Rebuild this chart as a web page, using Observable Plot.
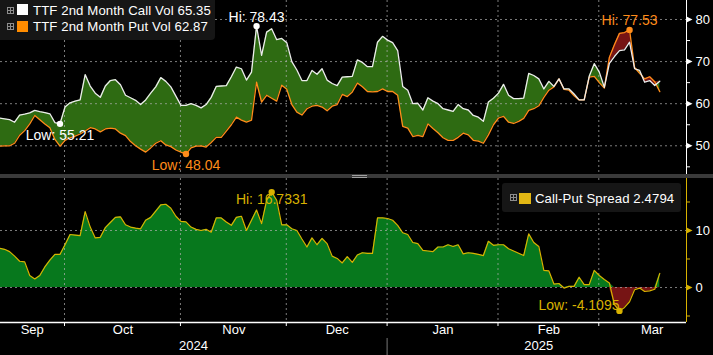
<!DOCTYPE html>
<html><head><meta charset="utf-8">
<script src="https://cdn.jsdelivr.net/npm/d3@7"></script>
<script src="https://cdn.jsdelivr.net/npm/@observablehq/plot@0.6"></script>
<style>
html,body{margin:0;padding:0;background:#000;}
#chart{position:relative;width:713px;height:355px;overflow:hidden;background:#000;font-family:"Liberation Sans",Arial,sans-serif;}
#top,#bottom{position:absolute;left:0;}
#top{top:0;} #bottom{top:178px;}
#sep{position:absolute;left:0;top:174px;width:713px;height:4px;background:#3a3a3a;}
.grip{position:absolute;left:352px;width:15px;height:1px;background:#a0a0a0;}
.legend{position:absolute;background:#161616;color:#fff;font-size:13.2px;letter-spacing:0.1px;}
.icon{position:absolute;width:5px;height:5px;border:1px solid #8c8c8c;}
.icon:before{content:"";position:absolute;left:2px;top:0;width:1px;height:5px;background:#8c8c8c}
.icon:after{content:"";position:absolute;left:0;top:2px;width:5px;height:1px;background:#8c8c8c}
.sw{position:absolute;width:11px;height:11px;}
.lbl{position:absolute;line-height:16px;white-space:nowrap;}
</style></head>
<body>
<div id="chart">
  <div id="top"></div>
  <div id="sep"><div class="grip" style="top:1px"></div><div class="grip" style="top:3px"></div></div>
  <div id="bottom"></div>
  <div class="legend" id="legTop" style="left:0;top:0;width:215px;height:40px;border-radius:0 0 4px 0;">
    <div class="icon" style="left:7px;top:7px"></div>
    <div class="sw" style="left:17px;top:4px;background:#ffffff"></div>
    <div class="lbl" id="lblCall" style="left:33px;top:3px"></div>
    <div class="icon" style="left:7px;top:23px"></div>
    <div class="sw" style="left:17px;top:21px;background:#ff8c00"></div>
    <div class="lbl" id="lblPut" style="left:33px;top:19px"></div>
  </div>
  <div class="legend" id="legBot" style="left:502px;top:183px;width:179px;height:29px;border-radius:3px;">
    <div class="icon" style="left:8px;top:11px"></div>
    <div class="sw" style="left:17px;top:10px;width:12px;background:#e2b714"></div>
    <div class="lbl" id="lblSpread" style="left:33px;top:8px"></div>
  </div>
</div>
<script>
// ---- data (one value per trading day, 12 Sep 2024 .. 19 Mar 2025) ----
const callVol = [
56.6,56.4,56.2,55.6,57.3,57.5,57.8,58.4,58.1,57.9,
57.6,55.5,55.21,59.2,60.2,60.6,60.9,66.9,64.2,62.5,
61.5,64.2,65.5,65.7,64.5,62.0,61.4,60.8,59.8,60.9,
62.5,64.0,66.2,65.3,64.0,61.8,59.6,59.6,60.0,59.6,
59.0,59.8,61.5,64.1,64.2,64.3,66.4,68.7,68.3,65.6,
67.5,78.43,71.5,77.0,77.8,75.2,75.5,74.5,70.0,68.0,
65.5,65.5,67.9,67.0,68.3,65.6,64.8,64.3,66.3,66.4,
66.5,70.4,69.8,68.8,68.8,74.6,76.0,75.1,74.5,72.6,
64.1,63.2,60.0,60.1,58.5,61.4,60.6,60.0,58.8,58.5,
58.2,59.8,58.8,58.5,57.2,56.8,55.8,60.4,61.3,62.5,
64.6,62.0,61.2,61.2,61.3,67.2,66.7,65.9,63.5,65.3,
64.1,65.9,63.5,63.5,62.3,60.9,60.9,66.5,69.5,67.5,
63.9,69.6,71.2,72.6,72.8,74.6,68.3,67.9,65.1,65.5,
64.3,65.35];
const putVol = [
49.9,50.0,50.0,50.6,52.5,53.6,55.2,57.2,56.2,55.2,
54.3,51.5,49.9,51.3,51.9,52.3,52.8,53.5,54.3,54.0,
53.3,54.0,54.2,54.0,53.0,52.4,51.0,50.0,49.2,48.5,
49.5,50.6,51.2,50.2,49.8,49.0,48.5,48.04,49.5,49.9,
50.0,49.7,50.8,52.0,52.0,53.5,55.0,56.8,56.1,55.6,
56.1,65.1,60.4,62.0,61.3,60.6,64.4,63.4,59.8,58.0,
57.3,58.8,59.4,59.6,59.2,58.3,59.4,59.8,62.2,61.7,
62.8,64.9,64.0,62.9,62.8,62.9,63.5,62.9,62.9,62.0,
54.6,54.2,52.2,52.5,52.2,55.2,54.1,53.1,51.9,51.3,
51.3,52.0,53.0,52.6,51.3,51.1,50.6,52.6,55.0,56.6,
57.0,55.6,55.3,55.8,56.5,58.4,58.8,59.5,61.5,63.2,
64.0,65.9,63.4,63.2,61.9,60.9,60.9,66.3,66.5,65.0,
63.7,71.0,74.0,76.7,76.9,77.53,68.6,67.2,65.9,66.4,
65.2,62.87];
const spreadVals = [
6.9,6.7,6.3,5.5,4.6,4.5,2.1,1.5,2.1,3.6,
4.8,5.8,5.8,7.5,9.3,9.2,9.1,13.3,10.6,8.7,
8.8,10.5,11.4,12.3,12.4,11.0,10.6,10.4,10.3,11.8,
12.3,13.4,14.5,14.6,13.9,12.5,11.6,11.5,10.6,10.2,
10.0,10.2,9.7,12.2,12.2,11.5,10.9,12.3,12.5,10.0,
11.8,13.6,11.2,15.3,16.7331,15.3,11.0,11.0,10.3,10.0,
8.5,7.1,8.7,7.5,8.6,7.7,5.5,5.1,4.3,5.4,
4.4,5.7,6.1,6.0,6.0,12.2,12.2,12.1,11.8,10.9,
9.6,9.3,7.9,7.7,6.5,6.4,6.3,7.1,7.1,7.5,
7.2,7.5,5.9,6.1,6.0,5.8,5.6,8.1,7.4,7.5,
7.5,6.8,6.4,6.0,5.6,9.4,7.9,7.2,3.0,2.9,
0.6,0.7,-0.1,0.2,0.2,1.8,0.5,0.5,3.0,2.1,
1.4,0.8,-3.0,-4.1095,-3.5,-2.5,-0.4,-0.1,-0.7,-0.6,
-0.3,2.4794];
const monthLabels = ["Sep","Oct","Nov","Dec","Jan","Feb","Mar"];
const monthEdges = [0,13,36,57,77,99,119,140];   // trading-day index where each month starts
const yearLabels = ["2024","2025"];
const yearEdges = [0,77,137];
const topMajor = [50,60,70,80], topMinor = [45,55,65,75];
const botMajor = [0,10], botMinor = [-5,5,15];
const callName = "TTF 2nd Month Call Vol", putName = "TTF 2nd Month Put Vol", spreadName = "Call-Put Spread";

// ---- build ----
const rows = callVol.map((c,i)=>({i, call:c, put:putVol[i], spread:spreadVals[i]}));
const n = rows.length;
const f2 = v => v.toFixed(2), f4 = v => v.toFixed(4);
document.getElementById("lblCall").textContent = `${callName} ${f2(callVol[n-1])}`;
document.getElementById("lblPut").textContent = `${putName} ${f2(putVol[n-1])}`;
document.getElementById("lblSpread").textContent = `${spreadName} ${f4(spreadVals[n-1])}`;

const xDom = [0.2, 136.3];
const pxX = (xDom[1]-xDom[0])/686;
const topDom = [43.18, 84.51];
const botDom = [-6.14, 19.12];
const FONT = "Liberation Sans, Arial, sans-serif";
const GREEN_T = "#2e6b12", RED = "#761414", ORANGE = "#ff8c1a", GOLD = "#d8b200", GREEN_B = "#07781d";
const GRID = {stroke:"#b0b0b0", strokeOpacity:0.7, strokeDasharray:"2,3", strokeWidth:1};
const rightTri = {draw(ctx, size){ const r = Math.sqrt(size/Math.PI); ctx.moveTo(0,-r); ctx.lineTo(2*r,0); ctx.lineTo(0,r); ctx.closePath(); }};
const bounds = monthEdges.slice(1,-1);
const monthMids = monthLabels.map((l,k)=>({x:(monthEdges[k]+monthEdges[k+1])/2, label:l}));
const yearMids = yearLabels.map((l,k)=>({x:(yearEdges[k]+yearEdges[k+1])/2, label:l}));

const iCH = d3.maxIndex(callVol), iCL = d3.minIndex(callVol);
const iPH = d3.maxIndex(putVol), iPL = d3.minIndex(putVol);
const iSH = d3.maxIndex(spreadVals), iSL = d3.minIndex(spreadVals);

const topPlot = Plot.plot({
  width:713, height:174, marginLeft:0, marginRight:27, marginTop:0, marginBottom:0,
  x:{type:"linear", domain:xDom, axis:null}, y:{type:"linear", domain:topDom, axis:null},
  style:{background:"transparent", color:"#fff", fontFamily:FONT, overflow:"visible"},
  marks:[
    Plot.areaY(rows, {x:"i", y1:"put", y2:d=>Math.max(d.call,d.put), fill:GREEN_T}),
    Plot.areaY(rows, {x:"i", y1:"call", y2:d=>Math.max(d.call,d.put), fill:RED}),
    Plot.ruleY(topMajor, GRID),
    Plot.ruleX(bounds, {x:d=>d-0.1, ...GRID}),
    Plot.lineY(rows, {x:"i", y:"put", stroke:ORANGE, strokeWidth:1.3}),
    Plot.lineY(rows, {x:"i", y:"call", stroke:"#ececec", strokeWidth:1.3}),
    Plot.ruleX([xDom[1]], {stroke:"#fff", strokeWidth:1}),
    Plot.ruleY(topMinor, {x1:xDom[1], x2:xDom[1]+4*pxX, stroke:"#fff"}),
    Plot.dot(topMajor, {x:xDom[1], y:d=>d, symbol:rightTri, r:3, fill:"#fff", stroke:null}),
    Plot.text(topMajor, {x:xDom[1], y:d=>d, text:d=>String(d), dx:9, textAnchor:"start", fill:"#fff", fontSize:13}),
    Plot.dot([iCH, iCL], {x:d=>d, y:d=>callVol[d], r:3.2, fill:"#fff", stroke:null}),
    Plot.text([iCH], {x:d=>d, y:d=>callVol[d], text:d=>`Hi: ${f2(callVol[d])}`, dy:-9, fill:"#fff", fontSize:14}),
    Plot.text([iCL], {x:d=>d, y:d=>callVol[d], text:d=>`Low: ${f2(callVol[d])}`, dy:12, fill:"#fff", fontSize:14}),
    Plot.dot([iPH, iPL], {x:d=>d, y:d=>putVol[d], r:3.2, fill:ORANGE, stroke:null}),
    Plot.text([iPH], {x:d=>d, y:d=>putVol[d], text:d=>`Hi: ${f2(putVol[d])}`, dy:-9, fill:ORANGE, fontSize:14}),
    Plot.text([iPL], {x:d=>d, y:d=>putVol[d], text:d=>`Low: ${f2(putVol[d])}`, dy:11, fill:ORANGE, fontSize:14})
  ]
});
document.getElementById("top").appendChild(topPlot);

const pxB = (botDom[1]-botDom[0])/144;
const botPlot = Plot.plot({
  width:713, height:177, marginLeft:0, marginRight:27, marginTop:0, marginBottom:33,
  x:{type:"linear", domain:xDom, axis:null}, y:{type:"linear", domain:botDom, axis:null},
  style:{background:"transparent", color:"#fff", fontFamily:FONT, overflow:"visible"},
  marks:[
    Plot.areaY(rows, {x:"i", y1:0, y2:d=>Math.max(d.spread,0), fill:GREEN_B}),
    Plot.areaY(rows, {x:"i", y1:0, y2:d=>Math.min(d.spread,0), fill:RED}),
    Plot.ruleY(botMajor, GRID),
    Plot.ruleX(bounds, {x:d=>d-0.1, ...GRID}),
    Plot.lineY(rows, {x:"i", y:"spread", stroke:GOLD, strokeWidth:1.2}),
    Plot.ruleY([botDom[0]], {stroke:"#fff", strokeWidth:1.3}),
    Plot.ruleX(bounds, {x:d=>d-0.1, y1:botDom[0], y2:botDom[0]-4*pxB, stroke:"#fff"}),
    Plot.ruleX([yearEdges[1]-0.1], {y1:botDom[0]-16*pxB, y2:botDom[0]-34*pxB, stroke:"#777"}),
    Plot.text(monthMids, {x:"x", text:"label", frameAnchor:"bottom", dy:11, fill:"#fff", fontSize:13}),
    Plot.text(yearMids, {x:"x", text:"label", frameAnchor:"bottom", dy:27, fill:"#fff", fontSize:13}),
    Plot.ruleX([xDom[1]], {stroke:GOLD, strokeWidth:1}),
    Plot.ruleY(botMinor, {x1:xDom[1], x2:xDom[1]+4*pxX, stroke:GOLD}),
    Plot.dot(botMajor, {x:xDom[1], y:d=>d, symbol:rightTri, r:3, fill:GOLD, stroke:null}),
    Plot.text(botMajor, {x:xDom[1], y:d=>d, text:d=>String(d), dx:9, textAnchor:"start", fill:"#fff", fontSize:13}),
    Plot.text([iSH], {x:d=>d, y:d=>spreadVals[d], text:d=>`Hi: ${f4(spreadVals[d])}`, dy:7, fill:GOLD, fontSize:14}),
    Plot.text([iSL], {x:d=>d, y:d=>spreadVals[d], text:d=>`Low: ${f4(spreadVals[d])}`, dy:-5, textAnchor:"end", fill:GOLD, fontSize:14}),
    Plot.dot([iSH, iSL], {x:d=>d, y:d=>spreadVals[d], r:3.2, fill:GOLD, stroke:null})
  ]
});
document.getElementById("bottom").appendChild(botPlot);
</script>
</body></html>
